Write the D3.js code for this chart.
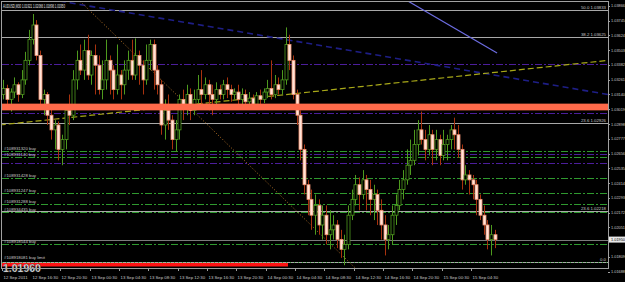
<!DOCTYPE html>
<html lang="en">
<head>
<meta charset="UTF-8">
<title>AUDUSD,M30</title>
<script src="https://d3js.org/d3.v7.min.js"></script>
<style>
  body { margin: 0; background: #000; }
  svg { display: block; }
  text { font-family: "Liberation Sans", Arial, sans-serif; }
</style>
</head>
<body>
<div id="chart"></div>
<script>
// M30 bars, open of each bar = previous close
const firstOpen = 1.0314;
const closes = [
  1.0319,1.0310,1.0316,1.0322,1.0314,1.0326,1.0342,1.0359,1.0371,1.0346,
  1.0310,1.0314,1.0297,1.0285,1.0289,1.0269,1.0277,1.0301,1.0297,1.0326,
  1.0342,1.0334,1.0350,1.0330,1.0346,1.0338,1.0318,1.0326,1.0342,1.0334,
  1.0318,1.0330,1.0322,1.0334,1.0342,1.0330,1.0346,1.0338,1.0326,1.0342,
  1.0355,1.0334,1.0322,1.0289,1.0301,1.0293,1.0277,1.0285,1.0310,1.0305,
  1.0314,1.0301,1.0310,1.0318,1.0314,1.0322,1.0314,1.0310,1.0318,1.0314,
  1.0322,1.0318,1.0314,1.0316,1.0310,1.0314,1.0308,1.0311,1.0306,1.0313,
  1.0310,1.0316,1.0319,1.0314,1.0322,1.0318,1.0326,1.0355,1.0342,1.0314,
  1.0297,1.0269,1.0240,1.0228,1.0215,1.0223,1.0207,1.0215,1.0199,1.0203,
  1.0207,1.0195,1.0187,1.0191,1.0215,1.0228,1.0240,1.0232,1.0244,1.0236,
  1.0228,1.0232,1.0219,1.0207,1.0195,1.0199,1.0215,1.0223,1.0236,1.0244,
  1.0256,1.0260,1.0273,1.0285,1.0277,1.0269,1.0281,1.0269,1.0277,1.0264,
  1.0273,1.0277,1.0285,1.0281,1.0269,1.0244,1.0248,1.0244,1.0240,1.0228,
  1.0215,1.0207,1.0195,1.0199,1.0195
];
const highs = [
  1.0326,1.0322,1.0319,1.0328,1.0324,1.0334,1.0349,1.0367,1.0380,1.0375,
  1.0350,1.0318,1.0316,1.0303,1.0293,1.0292,1.0281,1.0305,1.0314,1.0334,
  1.0350,1.0355,1.0359,1.0363,1.0350,1.0355,1.0346,1.0342,1.0359,1.0346,
  1.0338,1.0355,1.0334,1.0342,1.0350,1.0359,1.0360,1.0350,1.0342,1.0355,
  1.0359,1.0359,1.0338,1.0326,1.0310,1.0314,1.0297,1.0293,1.0314,1.0318,
  1.0322,1.0319,1.0318,1.0330,1.0334,1.0328,1.0326,1.0322,1.0324,1.0322,
  1.0326,1.0328,1.0322,1.0319,1.0322,1.0319,1.0318,1.0316,1.0314,1.0316,
  1.0318,1.0319,1.0326,1.0342,1.0330,1.0328,1.0334,1.0369,1.0363,1.0346,
  1.0318,1.0301,1.0273,1.0244,1.0236,1.0232,1.0228,1.0223,1.0223,1.0219,
  1.0215,1.0211,1.0203,1.0199,1.0223,1.0236,1.0248,1.0246,1.0252,1.0248,
  1.0244,1.0240,1.0236,1.0228,1.0215,1.0207,1.0223,1.0232,1.0244,1.0252,
  1.0269,1.0277,1.0285,1.0293,1.0300,1.0285,1.0289,1.0285,1.0285,1.0281,
  1.0285,1.0281,1.0289,1.0295,1.0289,1.0273,1.0256,1.0252,1.0248,1.0244,
  1.0232,1.0223,1.0211,1.0207,1.0203
];
const lows = [
  1.0310,1.0303,1.0300,1.0311,1.0308,1.0311,1.0322,1.0338,1.0355,1.0342,
  1.0305,1.0297,1.0289,1.0277,1.0269,1.0260,1.0256,1.0269,1.0289,1.0293,
  1.0318,1.0330,1.0326,1.0326,1.0322,1.0314,1.0314,1.0310,1.0318,1.0314,
  1.0310,1.0314,1.0310,1.0314,1.0326,1.0326,1.0326,1.0322,1.0314,1.0322,
  1.0334,1.0318,1.0314,1.0281,1.0277,1.0285,1.0269,1.0267,1.0277,1.0293,
  1.0297,1.0293,1.0297,1.0305,1.0305,1.0310,1.0301,1.0297,1.0305,1.0310,
  1.0310,1.0311,1.0308,1.0310,1.0305,1.0303,1.0305,1.0306,1.0303,1.0305,
  1.0306,1.0307,1.0311,1.0310,1.0311,1.0314,1.0314,1.0322,1.0334,1.0310,
  1.0289,1.0260,1.0232,1.0215,1.0203,1.0199,1.0199,1.0195,1.0191,1.0187,
  1.0195,1.0188,1.0180,1.0174,1.0187,1.0211,1.0223,1.0219,1.0228,1.0219,
  1.0215,1.0211,1.0207,1.0195,1.0182,1.0187,1.0191,1.0207,1.0219,1.0228,
  1.0240,1.0248,1.0256,1.0264,1.0273,1.0260,1.0264,1.0256,1.0260,1.0256,
  1.0260,1.0260,1.0269,1.0269,1.0262,1.0236,1.0240,1.0232,1.0228,1.0215,
  1.0211,1.0199,1.0187,1.0182,1.0188
];

const timeLabels = ['12 Sep 2011','12 Sep 16:30','12 Sep 20:30','13 Sep 00:30','13 Sep 04:30',
  '13 Sep 08:30','13 Sep 12:30','13 Sep 16:30','13 Sep 20:30','14 Sep 00:30','14 Sep 04:30',
  '14 Sep 08:30','14 Sep 12:30','14 Sep 16:30','14 Sep 20:30','15 Sep 00:30','15 Sep 04:30'];
const priceTicks = [1.03866,1.03745,1.03624,1.03503,1.03382,1.03261,1.03140,1.03019,1.02898,
  1.02777,1.02656,1.02535,1.02414,1.02293,1.02172,1.02051,1.01809,1.01688];

// chart objects
const fibPrices = [1.03833, 1.03612, 1.02906, 1.02187, 1.01767];
const fibLabels = ['50.0 1.03833', '38.2 1.03625', '23.6 1.02926', '23.6 1.02218', '0.0'];
const orderPrices = [1.02679, 1.02630, 1.02455, 1.02332, 1.02242, 1.02177, 1.01914];
const orderLabels = ['#108931320 buy', '#108931140 buy', '#108931428 buy', '#108931247 buy',
  '#108931288 buy', '#108934435 buy', '#108918544 buy'];
const limitPrice = 1.01767;
const limitLabel = '#108918081 buy limit';
const purplePrices = [1.03390, 1.02988, 1.02655, 1.02581];
const zonePrices = [1.03065, 1.03010];
const bidPrice = 1.0195;
const bidBig = 1.0196;
const header = 'AUDUSD,M30  1.01921 1.02066 1.01896 1.01950';

// trend lines as [bar index, price] pairs
const trendDotted = [[20.4, 1.0392], [95.9, 1.0172]];
const trendYellow = [[-1, 1.0289], [165, 1.0342]];
const trendNavy = [[12.7, 1.0392], [165, 1.0314]];
const trendBlue = [[109.6, 1.0392], [134.7, 1.0348]];

const W = 625, H = 282;
const plotL = 2, plotR = 608, plotT = 2, plotB = 268;

const svg = d3.select('#chart').append('svg')
  .attr('width', W).attr('height', H);
svg.append('rect').attr('width', W).attr('height', H).attr('fill', '#000');

const x = d3.scaleLinear().domain([0, 165]).range([3.4, 3.4 + 165 * 3.665]);
const y = d3.scaleLinear().domain([1.01717, 1.03915]).range([268, 0]);

const plot = svg.append('g');
svg.append('clipPath').attr('id', 'clip').append('rect')
  .attr('x', plotL).attr('y', plotT).attr('width', plotR - plotL).attr('height', plotB - plotT);
plot.attr('clip-path', 'url(#clip)');

const hline = (p, color, dash, w) => plot.append('line')
  .attr('x1', plotL).attr('x2', plotR)
  .attr('y1', Math.round(y(p)) + 0.5).attr('y2', Math.round(y(p)) + 0.5)
  .attr('stroke', color).attr('stroke-width', w || 1)
  .attr('stroke-dasharray', dash || null);

// fibo levels
fibPrices.forEach(p => hline(p, '#a8a8a8'));
// pending/open orders
purplePrices.forEach(p => hline(p, '#4c1e9c', '7,2,2,2'));
orderPrices.forEach(p => hline(p, '#2f9a2f', '7,2,2,2'));
hline(limitPrice, '#3aa03a', '1,3');
hline(bidPrice, '#7c7c7c');

// trend lines
const line = d3.line().x(d => x(d[0])).y(d => y(d[1]));
plot.append('path').attr('d', line(trendNavy)).attr('fill', 'none')
  .attr('stroke', '#1e1e86').attr('stroke-width', 1.6).attr('stroke-dasharray', '6,4');
plot.append('path').attr('d', line(trendYellow)).attr('fill', 'none')
  .attr('stroke', '#a8a818').attr('stroke-width', 1.2).attr('stroke-dasharray', '6,3');
plot.append('path').attr('d', line(trendDotted)).attr('fill', 'none')
  .attr('stroke', '#b87428').attr('stroke-width', 1).attr('stroke-dasharray', '1,2');
plot.append('path').attr('d', line(trendBlue)).attr('fill', 'none')
  .attr('stroke', '#6c6ce0').attr('stroke-width', 1.2);

// candles
const bars = closes.map((c, i) => {
  const o = i === 0 ? firstOpen : closes[i - 1];
  return { i, o, c, h: Math.max(highs[i], o, c), l: Math.min(lows[i], o, c) };
});
const candle = plot.selectAll('.bar').data(bars).enter().append('g').attr('class', 'bar');
candle.append('line')
  .attr('x1', d => Math.round(x(d.i)) + 0.5).attr('x2', d => Math.round(x(d.i)) + 0.5)
  .attr('y1', d => y(d.h)).attr('y2', d => y(d.l))
  .attr('stroke', d => d.c >= d.o ? '#4e9a1e' : '#a8320e');
candle.append('rect')
  .attr('x', d => Math.round(x(d.i)) - 1)
  .attr('y', d => y(Math.max(d.o, d.c)))
  .attr('width', 3)
  .attr('height', d => Math.max(1, Math.abs(y(d.o) - y(d.c))))
  .attr('fill', d => d.c >= d.o ? '#000' : '#ffe4d8')
  .attr('stroke', d => d.c >= d.o ? '#4e9a1e' : '#f09070')
  .attr('stroke-width', 0.8);

// resistance zone
plot.append('rect')
  .attr('x', plotL).attr('width', plotR - plotL)
  .attr('y', y(zonePrices[0])).attr('height', y(zonePrices[1]) - y(zonePrices[0]))
  .attr('fill', '#ff6a4a');

// labels on the chart
const small = 4.3;
fibPrices.forEach((p, k) => plot.append('text')
  .attr('x', 606).attr('y', y(p) - 0.8).attr('text-anchor', 'end')
  .attr('font-size', small).attr('fill', '#c8c8c8').text(fibLabels[k]));
orderPrices.forEach((p, k) => plot.append('text')
  .attr('x', 4).attr('y', y(p) - 1).attr('font-size', small).attr('fill', '#c8c8c8').text(orderLabels[k]));
plot.append('text').attr('x', 4).attr('y', y(limitPrice) - 3)
  .attr('font-size', small).attr('fill', '#c8c8c8').text(limitLabel);

// bottom strip, bid and copyright
plot.append('rect').attr('x', plotL).attr('y', 263).attr('width', 286).attr('height', 3.5).attr('fill', '#ff1414');
svg.append('text').attr('x', 3).attr('y', 272).attr('font-size', 10.5).attr('font-weight', 'bold')
  .attr('fill', '#fff').attr('stroke', '#333').attr('stroke-width', 0.4).text(d3.format('.5f')(bidBig));
plot.append('text').attr('x', 45).attr('y', 271).attr('font-size', small).attr('fill', '#c8c8c8')
  .text('\u00a9 2001-2011 MetaQuotes Software Corp.');

// header
svg.append('text').attr('x', 3).attr('y', 7.5).attr('font-size', 4.8).attr('fill', '#e8e8e8')
  .attr('textLength', 62).attr('lengthAdjust', 'spacingAndGlyphs').text(header);

// frame
svg.append('rect').attr('x', plotL - 0.5).attr('y', plotT - 0.5)
  .attr('width', plotR - plotL + 1).attr('height', plotB - plotT + 1)
  .attr('fill', 'none').attr('stroke', '#a0a0a0');

// price axis
const pAxis = svg.append('g');
priceTicks.forEach(v => {
  pAxis.append('line').attr('x1', plotR).attr('x2', plotR + 2)
    .attr('y1', Math.round(y(v)) + 0.5).attr('y2', Math.round(y(v)) + 0.5).attr('stroke', '#a0a0a0');
  pAxis.append('text').attr('x', plotR + 3).attr('y', y(v) + 1.5)
    .attr('font-size', 4).attr('textLength', 14).attr('lengthAdjust', 'spacingAndGlyphs')
    .attr('fill', '#c8c8c8').text(d3.format('.5f')(v));
});
pAxis.append('rect').attr('x', plotR + 1).attr('y', y(bidPrice) - 3)
  .attr('width', W - plotR - 1).attr('height', 6).attr('fill', '#e8e8e8');
pAxis.append('text').attr('x', plotR + 3).attr('y', y(bidPrice) + 1.5)
  .attr('font-size', 4).attr('textLength', 14).attr('lengthAdjust', 'spacingAndGlyphs')
  .attr('fill', '#000').text(d3.format('.5f')(bidPrice));

// time axis
const tAxis = svg.append('g');
timeLabels.forEach((t, k) => {
  const tx = Math.round(x(k * 8) - 1.7) + 0.5;
  tAxis.append('line').attr('x1', tx).attr('x2', tx).attr('y1', plotB).attr('y2', plotB + 3).attr('stroke', '#a0a0a0');
  tAxis.append('text').attr('x', tx + 1).attr('y', 279)
    .attr('font-size', small).attr('fill', '#c8c8c8').text(t);
});
</script>
</body>
</html>
